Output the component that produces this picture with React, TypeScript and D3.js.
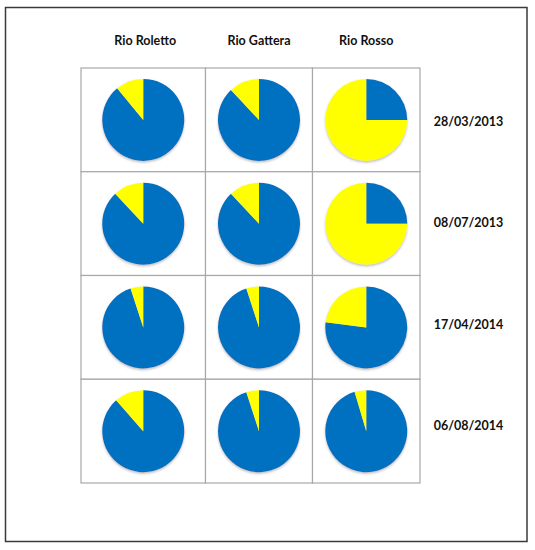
import * as d3 from "d3";

// rivers (columns) and sampling dates (rows)
const rivers = ["Rio Roletto", "Rio Gattera", "Rio Rosso"];
const dates = ["28/03/2013", "08/07/2013", "17/04/2014", "06/08/2014"];

// share of the blue slice (%) per river, one value per date; the rest is yellow
const roletto = [89, 88, 95, 88.5];
const gattera = [88, 88, 95, 95];
const rosso = [25, 25, 77, 95.4];
const blueByRiver = [roletto, gattera, rosso];

const sliceColors = ["#0070C0", "#FFFF00"];

const W = 535;
const H = 550;
// column edges of the grid (first column is a bit wider)
const colEdges = [81, 205.5, 312.5, 420];
const R = 41;
const font = "Lato, 'Open Sans', sans-serif";

export default function App() {
  const y = d3.scaleBand<string>().domain(dates).range([68, 483]);
  const labelY = d3.scaleBand<string>().domain(dates).range([70.6, 476.2]);
  const pie = d3
    .pie<number>()
    .sort(null)
    .value((d) => d);
  const arc = d3.arc<d3.PieArcDatum<number>>().innerRadius(0).outerRadius(R);

  return (
    <svg
      width={W}
      height={H}
      style={{ position: "absolute", left: 0, top: 0, display: "block", background: "#fff" }}
    >
      <defs>
        <filter id="shadow" x="-20%" y="-20%" width="140%" height="140%">
          <feDropShadow dx="0" dy="1.5" stdDeviation="1" floodColor="#888" floodOpacity="0.55" />
        </filter>
      </defs>
      {/* outer frame */}
      <rect x={5.5} y={7.5} width={521.5} height={534} fill="none" stroke="#3a3a3a" strokeWidth={1.5} />

      {/* column headers */}
      {rivers.map((r, i) => (
        <text
          key={r}
          x={(colEdges[i] + colEdges[i + 1]) / 2 + (i === 0 ? 2 : 0)}
          y={45}
          textAnchor="middle"
          fontFamily={font}
          fontWeight="bold"
          fontSize={12.5}
          fill="#111"
        >
          {r}
        </text>
      ))}

      {/* cells */}
      {dates.map((dt, row) =>
        rivers.map((r, col) => {
          const x0 = colEdges[col];
          const x1 = colEdges[col + 1];
          const y0 = y(dt) as number;
          const cx = (x0 + x1) / 2;
          const cy = y0 + y.bandwidth() / 2;
          const blue = blueByRiver[col][row];
          const arcs = pie([blue, 100 - blue]);
          return (
            <g key={dt + r}>
              <rect
                x={x0}
                y={y0}
                width={x1 - x0}
                height={y.bandwidth()}
                fill="#fff"
                stroke="#a8a8a8"
                strokeWidth={1.2}
              />
              <g transform={`translate(${cx},${cy})`} filter="url(#shadow)">
                {arcs.map((a, k) => (
                  <path key={k} d={arc(a) || ""} fill={sliceColors[k]} />
                ))}
              </g>
            </g>
          );
        })
      )}

      {/* date labels */}
      {dates.map((dt) => (
        <text
          key={dt}
          x={468.5}
          y={(labelY(dt) as number) + labelY.bandwidth() / 2}
          dominantBaseline="central"
          textAnchor="middle"
          fontFamily={font}
          fontWeight="bold"
          fontSize={12.5}
          fill="#111"
        >
          {dt}
        </text>
      ))}
    </svg>
  );
}
